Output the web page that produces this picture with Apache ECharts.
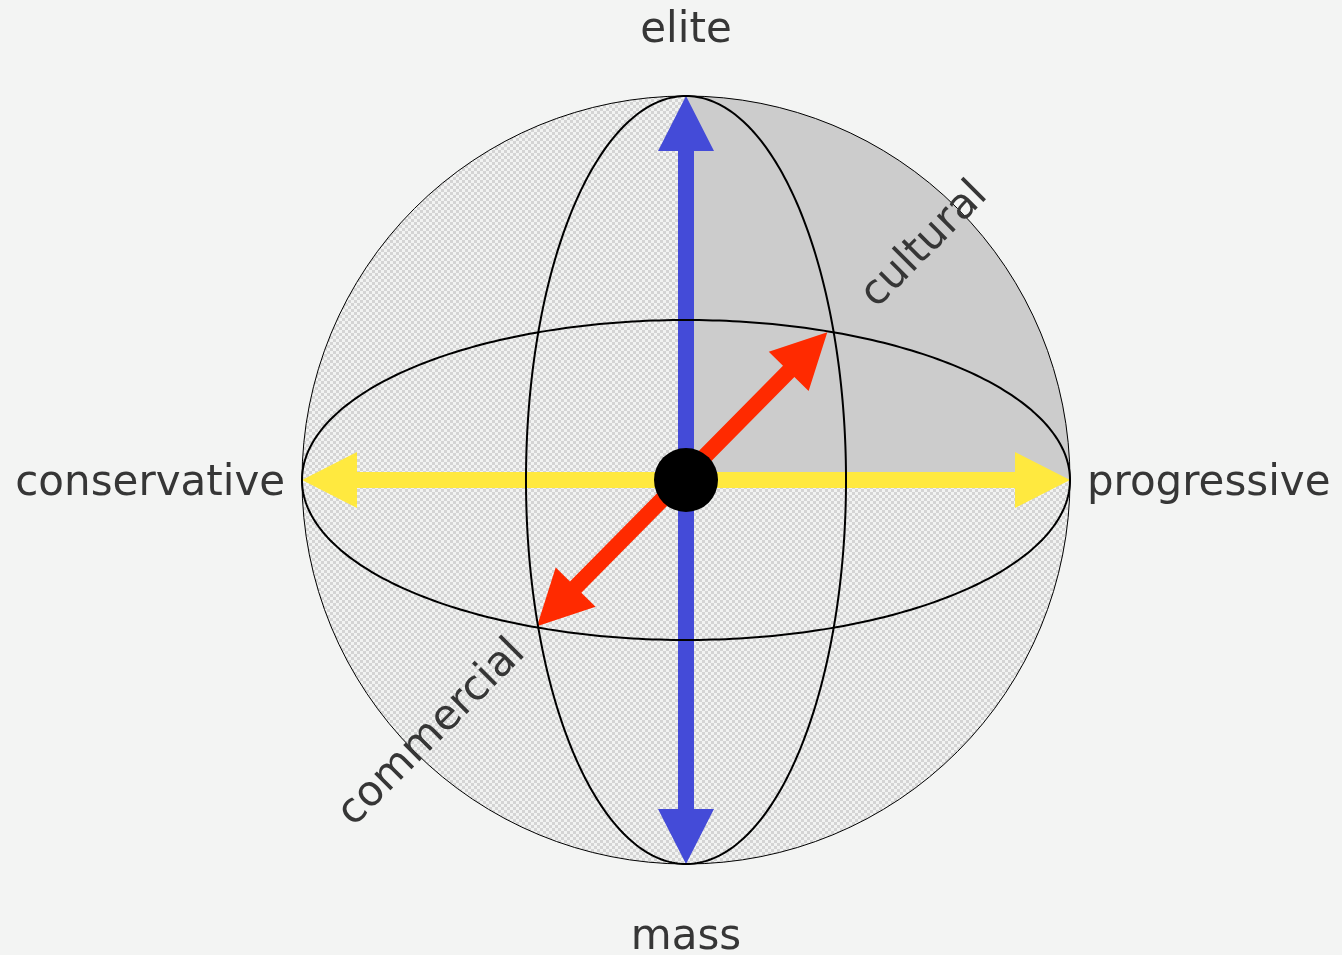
<!DOCTYPE html>
<html>
<head>
<meta charset="utf-8">
<script src="https://cdn.jsdelivr.net/npm/echarts@6/dist/echarts.min.js"></script>
<style>
  html, body { margin: 0; padding: 0; background: #f3f4f3; }
  #chart { width: 1342px; height: 955px; }
</style>
</head>
<body>
<div id="chart"></div>
<script>
// ---- data (in sphere units, radius = 1) ----
const poleLabels = ['elite', 'mass', 'conservative', 'progressive'];
const poleX = [0, 0, -1.044, 1.044];
const poleY = [1.168, -1.194, -0.01, -0.01];
const poleAlign = ['center', 'center', 'right', 'left'];

const diagLabels = ['cultural', 'commercial'];
const diagX = [0.622, -0.661];
const diagY = [0.612, -0.659];

// double-headed arrows: from [x, y] to [x, y]
const arrowNames = ['progressive–conservative', 'elite–mass', 'cultural–commercial'];
const arrowFrom = [[-1, 0], [0, 1], [-0.388, -0.381]];
const arrowTo = [[1, 0], [0, -1], [0.368, 0.385]];
const arrowColors = ['#ffe93f', '#444bd8', '#ff2a00'];

// ellipses (meridian / equator): [rx, ry]
const ellipseRadii = [[1, 0.4167], [0.4167, 1]];

// ---- checker pattern ----
const pat = document.createElement('canvas');
pat.width = 6; pat.height = 6;
const pc = pat.getContext('2d');
pc.fillStyle = '#f2f3f2'; pc.fillRect(0, 0, 6, 6);
pc.fillStyle = '#d4d4d4';
pc.fillRect(0, 0, 3, 3); pc.fillRect(3, 3, 3, 3);

const chart = echarts.init(document.getElementById('chart'), null, { renderer: 'canvas' });

function sphereItem(params, api) {
  const c = api.coord([0, 0]);
  const r = api.size([1, 1])[0];
  const quarter = [c];
  for (let i = 0; i <= 90; i++) {
    const a = i * Math.PI / 180;
    quarter.push([c[0] + r * Math.cos(a), c[1] - r * Math.sin(a)]);
  }
  return {
    type: 'group',
    children: [
      { type: 'circle', shape: { cx: c[0], cy: c[1], r: r },
        style: { fill: { image: pat, repeat: 'repeat' }, stroke: null } },
      { type: 'polygon', shape: { points: quarter }, style: { fill: '#cccccc' } },
      { type: 'circle', shape: { cx: c[0], cy: c[1], r: r },
        style: { fill: null, stroke: '#000', lineWidth: 1 } }
    ]
  };
}

function arrowItem(params, api) {
  const i = params.dataIndex;
  const p1 = api.coord([api.value(0), api.value(1)]);
  const p2 = api.coord([api.value(2), api.value(3)]);
  const dx = p2[0] - p1[0], dy = p2[1] - p1[1];
  const len = Math.hypot(dx, dy);
  const u = [dx / len, dy / len];
  const n = [-u[1], u[0]];
  const w = 8, L = 55, H = 28;
  const P = (base, a, b) => [base[0] + u[0] * a + n[0] * b, base[1] + u[1] * a + n[1] * b];
  const pts = [
    p1, P(p1, L, H), P(p1, L, w), P(p2, -L, w), P(p2, -L, H),
    p2, P(p2, -L, -H), P(p2, -L, -w), P(p1, L, -w), P(p1, L, -H)
  ];
  return { type: 'polygon', shape: { points: pts }, style: { fill: arrowColors[i] } };
}

function ellipseItem(params, api) {
  const c = api.coord([0, 0]);
  const s = api.size([api.value(0), api.value(1)]);
  const pts = [];
  for (let k = 0; k < 360; k++) {
    const a = k * Math.PI / 180;
    pts.push([c[0] + s[0] * Math.cos(a), c[1] + s[1] * Math.sin(a)]);
  }
  return { type: 'polygon', shape: { points: pts },
    style: { fill: null, stroke: '#000', lineWidth: 2 } };
}

function hubItem(params, api) {
  const c = api.coord([0, 0]);
  return { type: 'circle', shape: { cx: c[0], cy: c[1], r: 32 }, style: { fill: '#000' } };
}

const textStyleBase = { fontSize: 42, fontFamily: 'DejaVu Sans', fill: '#363636' };

function poleLabelItem(params, api) {
  const i = params.dataIndex;
  const p = api.coord([api.value(0), api.value(1)]);
  return { type: 'text', x: p[0], y: p[1],
    style: Object.assign({ text: poleLabels[i], align: poleAlign[i], verticalAlign: 'middle' }, textStyleBase) };
}

function diagLabelItem(params, api) {
  const i = params.dataIndex;
  const p = api.coord([api.value(0), api.value(1)]);
  return { type: 'text', x: p[0], y: p[1], rotation: Math.PI / 4,
    style: Object.assign({ text: diagLabels[i], align: 'center', verticalAlign: 'middle' }, textStyleBase) };
}

const option = {
  backgroundColor: '#f3f4f3',
  animation: false,
  grid: { left: 302, top: 96, width: 768, height: 768 },
  xAxis: { type: 'value', min: -1, max: 1, show: false },
  yAxis: { type: 'value', min: -1, max: 1, show: false },
  series: [
    { type: 'custom', name: 'sphere', clip: false, renderItem: sphereItem, data: [[0, 0]] },
    { type: 'custom', name: 'arrows', clip: false, renderItem: arrowItem,
      data: arrowFrom.map((f, i) => ({ name: arrowNames[i], value: [f[0], f[1], arrowTo[i][0], arrowTo[i][1]] })) },
    { type: 'custom', name: 'ellipses', clip: false, renderItem: ellipseItem, data: ellipseRadii },
    { type: 'custom', name: 'hub', clip: false, renderItem: hubItem, data: [[0, 0]] },
    { type: 'custom', name: 'poles', clip: false, renderItem: poleLabelItem,
      data: poleX.map((x, i) => [x, poleY[i]]) },
    { type: 'custom', name: 'diagonals', clip: false, renderItem: diagLabelItem,
      data: diagX.map((x, i) => [x, diagY[i]]) }
  ]
};
chart.setOption(option);
</script>
</body>
</html>
